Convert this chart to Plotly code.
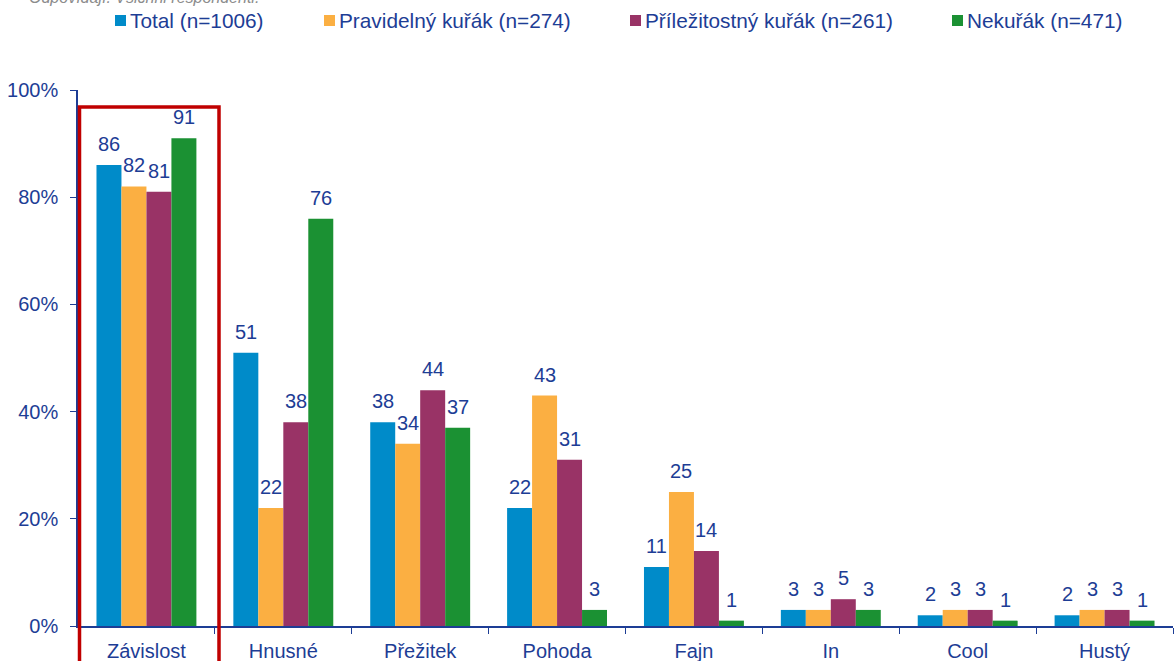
import plotly.graph_objects as go

categories = ["Závislost", "Hnusné", "Přežitek", "Pohoda", "Fajn", "In", "Cool", "Hustý"]
series_names = ["Total (n=1006)", "Pravidelný kuřák (n=274)", "Příležitostný kuřák (n=261)", "Nekuřák (n=471)"]
total = [86, 51, 38, 22, 11, 3, 2, 2]
pravidelny = [82, 22, 34, 43, 25, 3, 3, 3]
prilezitostny = [81, 38, 44, 31, 14, 5, 3, 3]
nekurak = [91, 76, 37, 3, 1, 3, 1, 1]
y_ticks = [0, 20, 40, 60, 80, 100]
y_ticklabels = ["0%", "20%", "40%", "60%", "80%", "100%"]

colors = ["#008BC9", "#FBAF42", "#993366", "#1B9133"]
text_color = "#1D3D95"
FONT = "Liberation Sans, Arial, sans-serif"

W, H = 1174, 661
L, R, T, B = 78, 1, 90, 35
PW, PH = W - L - R, H - T - B
BARGAP = 0.27

def px_x(px):
    return (px - L) / PW

def px_y(py):
    return (H - B - py) / PH

all_series = [total, pravidelny, prilezitostny, nekurak]
n_series = len(all_series)
cat_w = PW / len(categories)
bar_w = cat_w * (1 - BARGAP) / n_series

fig = go.Figure()
annotations = []
for i, (name, vals, col) in enumerate(zip(series_names, all_series, colors)):
    fig.add_trace(go.Bar(
        x=categories, y=vals, name=name,
        marker=dict(color=col, line=dict(width=0)),
        showlegend=False, hoverinfo="x+y",
    ))
    shift = (i - (n_series - 1) / 2) * bar_w
    for c, v in zip(categories, vals):
        annotations.append(dict(xref="x", yref="y", x=c, y=v, xshift=shift, yshift=8,
                                xanchor="center", yanchor="bottom", showarrow=False,
                                text=str(v), font=dict(family=FONT, size=20, color=text_color)))

fig.update_layout(
    width=W, height=H,
    margin=dict(l=L, r=R, t=T, b=B, autoexpand=False),
    plot_bgcolor="white", paper_bgcolor="white",
    barmode="group", bargap=BARGAP, bargroupgap=0,
    font=dict(family=FONT, size=20, color=text_color),
    xaxis=dict(
        showgrid=False, showline=True, linecolor=text_color, linewidth=1.5,
        ticks="outside", tickson="boundaries", ticklen=6, tickcolor=text_color,
        tickfont=dict(family=FONT, size=20, color=text_color),
        ticklabelstandoff=6,
    ),
    yaxis=dict(
        range=[0, 100], showgrid=False, showline=True, linecolor=text_color, linewidth=1.5,
        ticks="outside", ticklen=6, tickcolor=text_color,
        tickvals=y_ticks, ticktext=y_ticklabels,
        tickfont=dict(family=FONT, size=20, color=text_color),
        ticklabelstandoff=8, zeroline=False,
    ),
)

# manual legend (squares + text)
legend_sq_x = [115, 324, 630, 952]
shapes = []
for sx, name, col in zip(legend_sq_x, series_names, colors):
    shapes.append(dict(type="rect", xref="paper", yref="paper",
                       x0=px_x(sx), x1=px_x(sx + 11), y0=px_y(26), y1=px_y(15),
                       fillcolor=col, line=dict(width=0)))
    annotations.append(dict(xref="paper", yref="paper", x=px_x(sx + 13), y=px_y(21),
                            xanchor="left", yanchor="middle", showarrow=False,
                            text=name, font=dict(family=FONT, size=20.8, color=text_color)))

# highlight box around first category
shapes.append(dict(type="rect", xref="paper", yref="paper",
                   x0=px_x(79.5), x1=px_x(219), y0=px_y(690), y1=px_y(107),
                   line=dict(color="#C00000", width=3.5), fillcolor="rgba(0,0,0,0)"))

# cut-off subtitle at very top
annotations.append(dict(xref="paper", yref="paper", x=px_x(27), y=px_y(-3),
                        xanchor="left", yanchor="middle", showarrow=False,
                        text="<i>Odpovídají: Všichni respondenti.</i>",
                        font=dict(family=FONT, size=16, color="#8C8C8C")))

fig.update_layout(shapes=shapes, annotations=annotations)
fig.write_html("out.html", config={"displayModeBar": False},
               post_script="document.body.style.margin='0';document.body.style.overflow='hidden';")
